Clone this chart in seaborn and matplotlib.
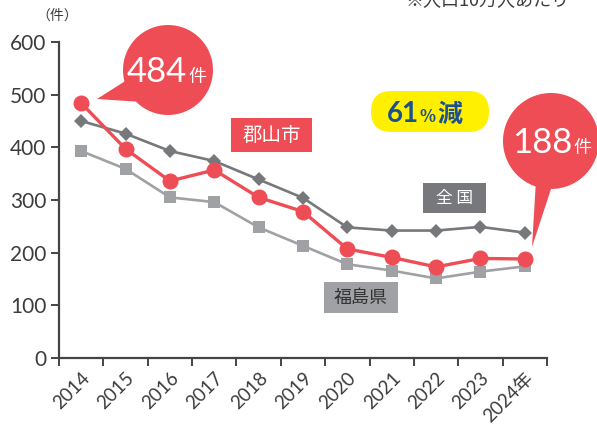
import numpy as np
import pandas as pd
import seaborn as sns
import matplotlib.pyplot as plt
from matplotlib.patches import Circle, Polygon, Rectangle, FancyBboxPatch

# Data (件 / 人口10万人あたり)
years = ['2014', '2015', '2016', '2017', '2018', '2019', '2020', '2021', '2022', '2023', '2024年']
koriyama = [484, 397, 336, 357, 305, 278, 207, 191, 173, 189, 188]
zenkoku = [450, 426, 393, 374, 339, 304, 248, 242, 242, 249, 238]
fukushima = [393, 359, 305, 296, 248, 213, 178, 166, 151, 164, 174]

df = pd.DataFrame({'pos': np.arange(len(years)), 'year': years,
                   '郡山市': koriyama, '全国': zenkoku, '福島県': fukushima})

RED = '#ee4d55'
DARK = '#77787c'
LIGHT = '#a0a1a5'
TXT = '#3c3c3c'
NUM_FONT = ['Lato', 'Noto Sans CJK JP', 'DejaVu Sans']

sns.set_style('white')
plt.rcParams['font.family'] = ['Noto Sans CJK JP', 'DejaVu Sans']

fig = plt.figure(figsize=(5.97, 4.26), dpi=100)
ax = fig.add_axes([59 / 597, 1 - 358 / 426, (547 - 59) / 597, (358 - 42) / 426])

sns.lineplot(data=df, x='pos', y='福島県', ax=ax, color=LIGHT, lw=1.9,
             marker='s', markersize=8.5, markeredgewidth=0, zorder=2)
sns.lineplot(data=df, x='pos', y='全国', ax=ax, color=DARK, lw=1.9,
             marker='D', markersize=7.5, markeredgewidth=0, zorder=3)
sns.lineplot(data=df, x='pos', y='郡山市', ax=ax, color=RED, lw=2.4,
             marker='o', markersize=11.5, markeredgewidth=0, zorder=4)

ax.set_xlim(-0.5, len(years) - 0.5)
ax.set_ylim(0, 600)
ax.set_xlabel('')
ax.set_ylabel('')
ax.set_yticks(range(0, 601, 100))
ax.set_yticklabels([str(v) for v in range(0, 601, 100)], family=NUM_FONT,
                   fontsize=15, color=TXT)
ax.set_xticks(np.arange(len(years) + 1) - 0.5, minor=False)
ax.set_xticklabels([])
ax.set_xticks(np.arange(len(years)), minor=True)
ax.set_xticklabels(years, minor=True, rotation=45, ha='right', va='top',
                   rotation_mode='anchor', fontsize=13.5, color=TXT, family=NUM_FONT)
ax.tick_params(axis='x', which='minor', length=0, pad=8)
ax.tick_params(axis='both', which='major', direction='out', length=6,
               width=1.4, color='#444444', pad=3)
ax.tick_params(axis='y', left=True)
ax.tick_params(axis='x', bottom=True)
for s in ['top', 'right']:
    ax.spines[s].set_visible(False)
for s in ['left', 'bottom']:
    ax.spines[s].set_color('#444444')
    ax.spines[s].set_linewidth(1.6)

# Overlay in pixel coordinates for callouts and labels
ov = fig.add_axes([0, 0, 1, 1], zorder=5)
ov.set_xlim(0, 597)
ov.set_ylim(426, 0)
ov.axis('off')

ov.text(57, 16, '（件）', ha='center', va='center', fontsize=10, color=TXT)
ov.text(487, 1, '※人口10万人あたり', ha='center', va='center', fontsize=13, color=TXT)

# 484件 bubble
ov.add_patch(Circle((168, 70), 45, color=RED, lw=0))
ov.add_patch(Polygon([(97, 99), (130, 78), (142, 102)], closed=True, color=RED, lw=0))
ov.text(187, 82, str(koriyama[0]), ha='right', va='baseline', fontsize=25,
        color='white', family=NUM_FONT)
ov.text(188, 82, '件', ha='left', va='baseline', fontsize=13, color='white')

# 188件 bubble
ov.add_patch(Circle((551, 141), 48, color=RED, lw=0))
ov.add_patch(Polygon([(532, 247), (536, 180), (552, 186)], closed=True, color=RED, lw=0))
ov.text(572, 153, str(koriyama[-1]), ha='right', va='baseline', fontsize=25,
        color='white', family=NUM_FONT)
ov.text(573, 153, '件', ha='left', va='baseline', fontsize=13, color='white')

# 61%減
ov.add_patch(FancyBboxPatch((371, 91), 118, 41, boxstyle='round,pad=0,rounding_size=20.5',
                            color='#fff000', lw=0))
ov.text(419, 122, '61', ha='right', va='baseline', fontsize=20, color='#1d4f91',
        fontweight='bold', family=NUM_FONT)
ov.text(420, 122, '%', ha='left', va='baseline', fontsize=12, color='#1d4f91', fontweight='bold')
ov.text(437, 122, '減', ha='left', va='baseline', fontsize=18, color='#1d4f91', fontweight='bold')

# series labels
ov.add_patch(Rectangle((231, 118), 81, 34, color=RED, lw=0))
ov.text(271.5, 135, '郡山市', ha='center', va='center', fontsize=14, color='white')
ov.add_patch(Rectangle((423, 183), 63, 30, color=DARK, lw=0))
ov.text(454.5, 198, '全 国', ha='center', va='center', fontsize=12, color='white')
ov.add_patch(Rectangle((324, 282), 74, 31, color=LIGHT, lw=0))
ov.text(361, 297.5, '福島県', ha='center', va='center', fontsize=13, color='#333333')

fig.savefig('out.png', dpi=100)
